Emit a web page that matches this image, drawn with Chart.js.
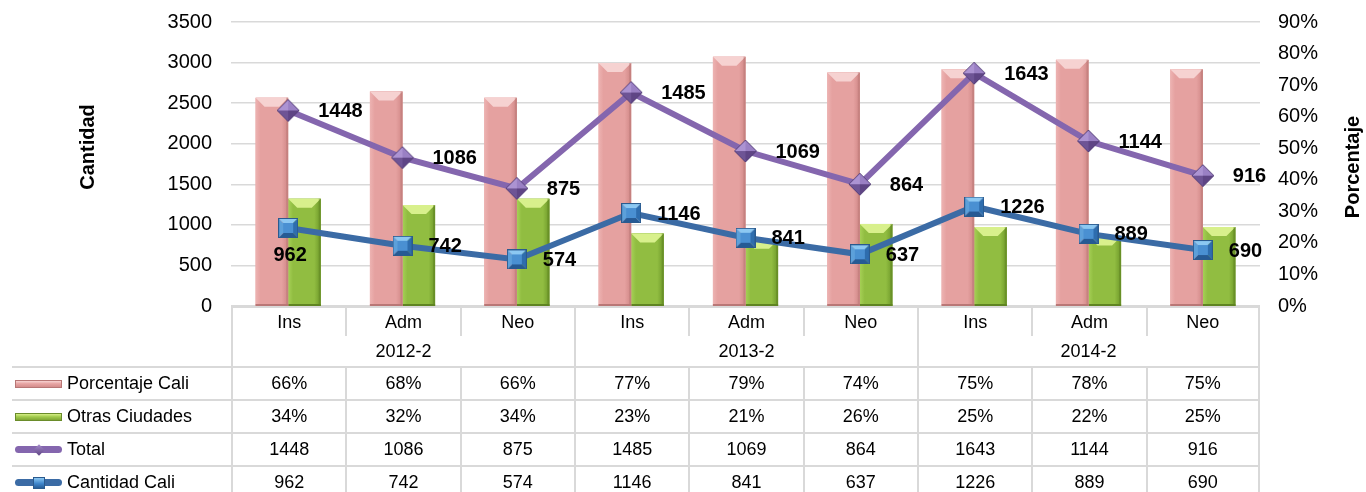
<!DOCTYPE html>
<html>
<head>
<meta charset="utf-8">
<script src="https://cdn.jsdelivr.net/npm/chart.js@4.4.1/dist/chart.umd.min.js"></script>
<style>
  html, body { margin: 0; padding: 0; background: #fff; }
  #wrap { position: relative; width: 1366px; height: 492px; overflow: hidden; font-family: "Liberation Sans", Arial, sans-serif; }
  #chart { position: absolute; left: 0; top: 0; }
  .cell { position: absolute; box-sizing: border-box; display: flex; align-items: center; justify-content: center;
          font-size: 18px; color: #000; border: 0 solid #D9D9D9; white-space: nowrap; }
  .lbl { justify-content: flex-start; padding-left: 3px; }
  .key { position: relative; width: 47px; height: 8px; margin-right: 5px; box-sizing: border-box; flex: none; }
  .key.pink { background: linear-gradient(#F7D3D2, #E7A4A3 45%, #D48D8C); border: 1px solid #B77675; }
  .key.green { background: linear-gradient(#D6EE86, #A2CB4E 45%, #7FA634); border: 1px solid #6A8C2A; }
  .key.line { height: 7px; border-radius: 4px; }
  .key.purple { background: #8466AE; }
  .key.blue { background: #3B6BA5; }
  .key .mk { position: absolute; left: 50%; top: 50%; }
  .key.purple .mk { width: 8px; height: 8px; margin: -4px 0 0 -4px; transform: rotate(45deg); background: linear-gradient(135deg, #A58BCB, #5F4585); }
  .key.blue .mk { width: 12px; height: 12px; margin: -6px 0 0 -6px; background: linear-gradient(#8CC8F2, #3F86CC 55%, #275D98); border: 1px solid #2A5A8E; box-sizing: border-box; }
</style>
</head>
<body>
<div id="wrap">
  <canvas id="chart" width="1366" height="492"></canvas>
</div>
<script>
// data
const categories = ['Ins', 'Adm', 'Neo', 'Ins', 'Adm', 'Neo', 'Ins', 'Adm', 'Neo'];
const periods = ['2012-2', '2013-2', '2014-2'];
const porcentajeCali = [66, 68, 66, 77, 79, 74, 75, 78, 75];
const otrasCiudades = [34, 32, 34, 23, 21, 26, 25, 22, 25];
const total = [1448, 1086, 875, 1485, 1069, 864, 1643, 1144, 916];
const cantidadCali = [962, 742, 574, 1146, 841, 637, 1226, 889, 690];

Chart.defaults.font.family = '"Liberation Sans", Arial, sans-serif';
Chart.defaults.color = '#000';

// marker images with a little bevel, like the office chart
function diamondMarker() {
  const c = document.createElement('canvas');
  c.width = 24; c.height = 24;
  const g = c.getContext('2d');
  const m = 12, pts = [[12, 1], [23, 12], [12, 23], [1, 12]];
  const cols = ['#9A80C4', '#5F4585', '#6E5495', '#AC93D2'];
  for (let i = 0; i < 4; i++) {
    const a = pts[i], b = pts[(i + 1) % 4];
    g.beginPath(); g.moveTo(a[0], a[1]); g.lineTo(b[0], b[1]); g.lineTo(m, m); g.closePath();
    g.fillStyle = cols[i]; g.fill();
  }
  g.beginPath(); pts.forEach((p, i) => i ? g.lineTo(p[0], p[1]) : g.moveTo(p[0], p[1])); g.closePath();
  g.strokeStyle = '#56407A'; g.lineWidth = 1; g.stroke();
  return c;
}

function squareMarker() {
  const c = document.createElement('canvas');
  c.width = 20; c.height = 20;
  const g = c.getContext('2d');
  const o = 1, O = 19, i0 = 5, i1 = 15;
  const facets = [
    [[o, o], [O, o], [i1, i0], [i0, i0], '#8CC8F2'],
    [[O, o], [O, O], [i1, i1], [i1, i0], '#2E6DAE'],
    [[O, O], [o, O], [i0, i1], [i1, i1], '#265A94'],
    [[o, O], [o, o], [i0, i0], [i0, i1], '#5CA0DA']
  ];
  facets.forEach(f => {
    g.beginPath(); g.moveTo(f[0][0], f[0][1]);
    for (let k = 1; k < 4; k++) g.lineTo(f[k][0], f[k][1]);
    g.closePath(); g.fillStyle = f[4]; g.fill();
  });
  g.fillStyle = '#4A90D2'; g.fillRect(i0, i0, i1 - i0, i1 - i0);
  g.strokeStyle = '#2A5A8E'; g.lineWidth = 1; g.strokeRect(0.5, 0.5, 19, 19);
  return c;
}

const barLooks = {
  0: { stops: ['#EDB3B2', '#E5A1A0', '#D08786'], cap: '#F6D2D1', edge: '#B97776' },
  1: { stops: ['#A6D056', '#91BD41', '#6E992A'], cap: '#D8F08C', edge: '#5F8422' }
};

// shading drawn over each bar, from the bar's own geometry
const barShade = {
  id: 'barShade',
  afterDatasetDraw(chart, args) {
    const look = barLooks[args.index];
    if (!look) return;
    const ctx = chart.ctx;
    args.meta.data.forEach(el => {
      const p = el.getProps(['x', 'y', 'base', 'width'], true);
      const l = p.x - p.width / 2, r = p.x + p.width / 2;
      const gr = ctx.createLinearGradient(l, 0, r, 0);
      gr.addColorStop(0, look.stops[0]);
      gr.addColorStop(0.15, look.stops[1]);
      gr.addColorStop(0.8, look.stops[1]);
      gr.addColorStop(1, look.stops[2]);
      ctx.save();
      ctx.fillStyle = gr;
      ctx.fillRect(l, p.y, p.width, p.base - p.y);
      const b = 9;
      ctx.beginPath();
      ctx.moveTo(l, p.y); ctx.lineTo(r, p.y); ctx.lineTo(r - b, p.y + b); ctx.lineTo(l + b, p.y + b); ctx.closePath();
      ctx.fillStyle = look.cap; ctx.fill();
      ctx.fillStyle = look.edge;
      ctx.fillRect(l, p.base - 2, p.width, 2);
      ctx.globalAlpha = 0.5;
      ctx.fillRect(r - 2, p.y, 2, p.base - p.y);
      ctx.restore();
    });
  }
};

// bold value labels next to the line points
const valueLabels = {
  id: 'valueLabels',
  afterDatasetsDraw(chart) {
    const ctx = chart.ctx;
    ctx.save();
    ctx.font = 'bold 20px "Liberation Sans", Arial, sans-serif';
    ctx.fillStyle = '#000';
    ctx.textBaseline = 'middle';
    chart.data.datasets.forEach((ds, di) => {
      if (ds.type !== 'line') return;
      const meta = chart.getDatasetMeta(di);
      meta.data.forEach((pt, i) => {
        const txt = String(ds.data[i]);
        if (ds.label === 'Cantidad Cali' && i === 0) {
          ctx.textAlign = 'center';
          ctx.fillText(txt, pt.x + 2, pt.y + 28);
        } else {
          ctx.textAlign = 'left';
          ctx.fillText(txt, pt.x + (ds.label === 'Total' ? 30 : 26), pt.y + 1);
        }
      });
    });
    ctx.restore();
  }
};

// both axis titles read bottom to top
const axisTitles = {
  id: 'axisTitles',
  afterDraw(chart) {
    const ctx = chart.ctx, a = chart.chartArea;
    ctx.save();
    ctx.font = 'bold 20px "Liberation Sans", Arial, sans-serif';
    ctx.fillStyle = '#000';
    ctx.textAlign = 'center';
    ctx.textBaseline = 'middle';
    ctx.translate(88, a.top + 125); ctx.rotate(-Math.PI / 2); ctx.fillText('Cantidad', 0, 0);
    ctx.restore();
    ctx.save();
    ctx.font = 'bold 20px "Liberation Sans", Arial, sans-serif';
    ctx.fillStyle = '#000';
    ctx.textAlign = 'center';
    ctx.textBaseline = 'middle';
    ctx.translate(1353, a.top + 145); ctx.rotate(-Math.PI / 2); ctx.fillText('Porcentaje', 0, 0);
    ctx.restore();
  }
};

const chart = new Chart(document.getElementById('chart'), {
  data: {
    labels: categories,
    datasets: [
      { type: 'bar', label: 'Porcentaje Cali', data: porcentajeCali, yAxisID: 'y1', order: 2,
        backgroundColor: '#E5A1A0', categoryPercentage: 0.57, barPercentage: 1 },
      { type: 'bar', label: 'Otras Ciudades', data: otrasCiudades, yAxisID: 'y1', order: 2,
        backgroundColor: '#91BD41', categoryPercentage: 0.57, barPercentage: 1 },
      { type: 'line', label: 'Cantidad Cali', data: cantidadCali, yAxisID: 'y', order: 1,
        borderColor: '#3B6BA5', borderWidth: 6, pointStyle: squareMarker(), pointRadius: 10 },
      { type: 'line', label: 'Total', data: total, yAxisID: 'y', order: 1,
        borderColor: '#8466AE', borderWidth: 6, pointStyle: diamondMarker(), pointRadius: 12 }
    ]
  },
  options: {
    responsive: false,
    animation: false,
    devicePixelRatio: 1,
    layout: { padding: { top: 22, bottom: 186, left: 0, right: 0 } },
    plugins: { legend: { display: false }, tooltip: { enabled: false } },
    scales: {
      x: { type: 'category', display: false, offset: true, stacked: false },
      y: {
        position: 'left', stacked: true, min: 0, max: 3500,
        ticks: { stepSize: 500, font: { size: 20 }, padding: 19, callback: v => String(v) },
        grid: { color: '#D9D9D9', lineWidth: 1.5, drawTicks: false },
        border: { display: false },
        afterFit(s) { s.width = 231; s.paddingTop = 0; s.paddingBottom = 0; }
      },
      y1: {
        position: 'right', min: 0, max: 90,
        ticks: { stepSize: 10, font: { size: 20 }, padding: 18, callback: v => v + '%' },
        grid: { display: false, drawTicks: false },
        border: { display: false },
        afterFit(s) { s.width = 106; s.paddingTop = 0; s.paddingBottom = 0; }
      }
    }
  },
  plugins: [barShade, valueLabels, axisTitles]
});

// data table under the plot, lined up with the category scale
function buildTable() {
  const wrap = document.getElementById('wrap');
  const a = chart.chartArea;
  const n = categories.length;
  const colW = (a.right - a.left) / n;
  const L0 = 12;
  const cell = (x, y, w, h, text, borders, cls) => {
    const d = document.createElement('div');
    d.className = 'cell' + (cls ? ' ' + cls : '');
    d.style.left = x + 'px'; d.style.top = y + 'px';
    d.style.width = w + 'px'; d.style.height = h + 'px';
    d.style.borderWidth = borders;
    if (typeof text === 'string') d.textContent = text; else d.appendChild(text);
    wrap.appendChild(d);
    return d;
  };
  const top = a.bottom;
  categories.forEach((c, i) => {
    cell(a.left + i * colW, top, colW, 30, c, '2px ' + (i === n - 1 ? '2px' : '0') + ' 0 2px');
  });
  periods.forEach((p, g) => {
    cell(a.left + g * 3 * colW, top + 30, 3 * colW, 30, p, '0 ' + (g === periods.length - 1 ? '2px' : '0') + ' 0 2px');
  });
  const rows = [
    { name: 'Porcentaje Cali', key: 'pink', vals: porcentajeCali.map(v => v + '%') },
    { name: 'Otras Ciudades', key: 'green', vals: otrasCiudades.map(v => v + '%') },
    { name: 'Total', key: 'line purple', vals: total.map(String) },
    { name: 'Cantidad Cali', key: 'line blue', vals: cantidadCali.map(String) }
  ];
  rows.forEach((r, k) => {
    const y = top + 60 + k * 33;
    const frag = document.createElement('span');
    frag.style.display = 'flex'; frag.style.alignItems = 'center';
    const key = document.createElement('span');
    key.className = 'key ' + r.key;
    if (r.key.indexOf('line') === 0) {
      const mk = document.createElement('span'); mk.className = 'mk'; key.appendChild(mk);
    }
    frag.appendChild(key);
    frag.appendChild(document.createTextNode(r.name));
    cell(L0, y, a.left - L0, 33, frag, '2px 0 0 0', 'lbl');
    r.vals.forEach((v, i) => {
      cell(a.left + i * colW, y, colW, 33, v, '2px ' + (i === n - 1 ? '2px' : '0') + ' 0 2px');
    });
  });
}
buildTable();
</script>
</body>
</html>
